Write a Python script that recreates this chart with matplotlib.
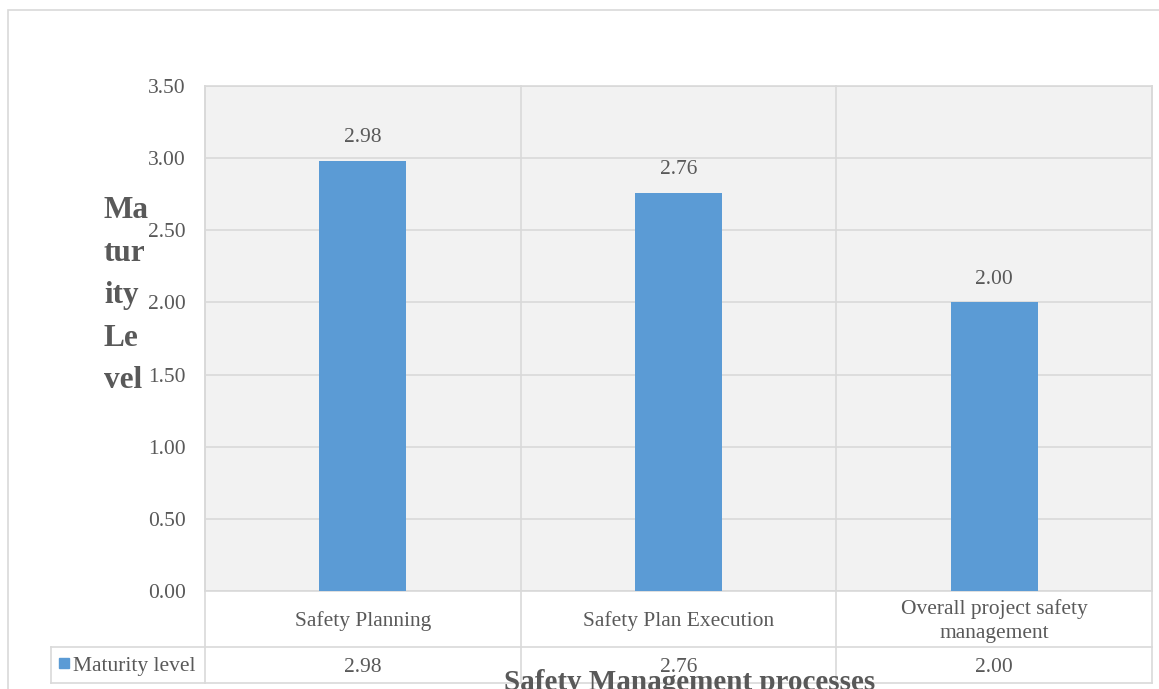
import matplotlib
matplotlib.use("Agg")
import matplotlib.pyplot as plt
from matplotlib.patches import Rectangle
from matplotlib.lines import Line2D
import matplotlib.transforms as mtransforms

categories = ["Safety Planning", "Safety Plan Execution", "Overall project safety\nmanagement"]
maturity = [2.98, 2.76, 2.00]
series_name = "Maturity level"
y_ticks = [0.0, 0.5, 1.0, 1.5, 2.0, 2.5, 3.0, 3.5]
ylabel_parts = ["Ma", "tur", "ity", "Le", "vel"]
xlabel = "Safety Management processes"

W, H = 1159, 689
plt.rcParams["font.family"] = ["Liberation Serif", "DejaVu Serif"]
TXT = "#595959"
GRID = "#d9d9d9"
BAR = "#5b9bd5"
FS = 15.5

fig = plt.figure(figsize=(W / 100, H / 100), dpi=100)

# outer chart border
fig.patches.append(Rectangle((8 / W, -0.05), 1.1, 1 - 10 / H + 0.05, transform=fig.transFigure,
                             fill=False, edgecolor=GRID, linewidth=1.2))

left, right, top, bottom = 205, 1152, 86, 591
ph = bottom - top
ax = fig.add_axes([left / W, 1 - bottom / H, (right - left) / W, ph / H])
ax.set_facecolor("#f2f2f2")
ax.set_xlim(-0.5, len(categories) - 0.5)
ax.set_ylim(0, 3.5)
ax.set_yticks(y_ticks)
ax.set_yticklabels([f"{v:.2f}" for v in y_ticks], color=TXT, fontsize=FS)
ax.tick_params(axis="y", length=0, pad=14)
ax.set_xticks([])
for s in ax.spines.values():
    s.set_color(GRID)
    s.set_linewidth(1.2)
ax.yaxis.grid(True, color=GRID, linewidth=1.2)
ax.set_axisbelow(True)

x = list(range(len(categories)))
ax.bar(x, maturity, width=0.276, color=BAR, zorder=3)
for xi, v in zip(x, maturity):
    ax.annotate(f"{v:.2f}", (xi, v), xytext=(0, 10), textcoords="offset points",
                ha="center", va="bottom", fontsize=FS, color=TXT)

# data table below the plot area
row1 = -(647 - bottom) / ph
row2 = -(683 - bottom) / ph
leg_left = (51 - left) / (right - left)
trans_bl = mtransforms.blended_transform_factory(ax.transData, ax.transAxes)
for b in [i - 0.5 for i in range(len(categories) + 1)]:
    ax.add_line(Line2D([b, b], [row2, 1], transform=trans_bl, color=GRID, lw=1.2, clip_on=False, zorder=1))
ax.add_line(Line2D([leg_left, 1], [row1, row1], transform=ax.transAxes, color=GRID, lw=1.2, clip_on=False))
ax.add_line(Line2D([leg_left, 1], [row2, row2], transform=ax.transAxes, color=GRID, lw=1.2, clip_on=False))
ax.add_line(Line2D([leg_left, leg_left], [row2, row1], transform=ax.transAxes, color=GRID, lw=1.2, clip_on=False))

cat_y = -(621 - bottom) / ph
val_y = -(667 - bottom) / ph
for xi, c, v in zip(x, categories, maturity):
    ax.text(xi, cat_y, c, transform=trans_bl, ha="center", va="center",
            fontsize=FS, color=TXT, linespacing=1.3)
    ax.text(xi, val_y, f"{v:.2f}", transform=trans_bl, ha="center", va="center",
            fontsize=FS, color=TXT)

ax.add_patch(Rectangle((leg_left + 8 / (right - left), -(668 - bottom) / ph),
                       10 / (right - left), 10 / ph, transform=ax.transAxes,
                       color=BAR, clip_on=False))
ax.text(leg_left + 22 / (right - left), val_y, series_name, transform=ax.transAxes,
        ha="left", va="center", fontsize=FS, color=TXT)

# axis titles
for i, part in enumerate(ylabel_parts):
    fig.text(104 / W, 1 - (218 + i * 42.6) / H, part, ha="left", va="baseline",
             fontsize=22.5, fontweight="bold", color=TXT)
fig.text(690 / W, 1 - 690 / H, xlabel, ha="center", va="baseline",
         fontsize=21, fontweight="bold", color=TXT)

fig.savefig("out.png", dpi=100)
